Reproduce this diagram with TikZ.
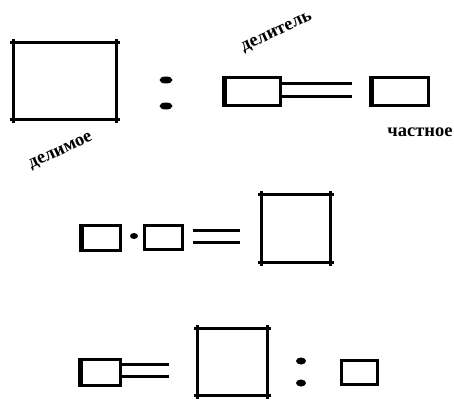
\documentclass[tikz,border=0pt]{standalone}
\usepackage{fontspec}
\setmainfont{Liberation Serif}
\usetikzlibrary{shapes.geometric}
\tikzset{
  bigbox/.style={inner sep=0pt, outer sep=0pt},
  smallbox/.style={draw, line width=3.5pt, inner sep=0pt, outer sep=0pt},
  side/.style={line width=3.3pt, shorten <=-3.5pt, shorten >=-3.5pt},
  thickside/.style={line width=5pt},
  eqsign/.style={inner sep=0pt, outer sep=0pt, minimum height=12pt},
  eqline/.style={line width=3pt},
  dot/.style={ellipse, fill, inner sep=0pt},
  lbl/.style={font=\bfseries\fontsize{18.5}{20}\selectfont, inner sep=0pt},
}
\begin{document}
\begin{tikzpicture}[x=1pt, y=-1pt]
\useasboundingbox (0,0) rectangle (454,401);
% dividend : divisor = quotient
\node[bigbox, minimum width=103pt, minimum height=77pt] (dividend) at (65,81) {};
\node[dot, minimum width=13pt, minimum height=7pt] (colona) at (166,80) {};
\node[dot, minimum width=13pt, minimum height=7pt] (colonb) at (166,106) {};
\node[smallbox, minimum width=57pt, minimum height=28pt] (divisor) at (252,91.5) {};
\node[eqsign, minimum width=70pt] (eqa) at (317,90) {};
\node[smallbox, minimum width=58pt, minimum height=28pt] (quotient) at (399.5,91.5) {};
\node[lbl, rotate=25] (ldivisor) at (277,33) {делитель};
\node[lbl] (lquotient) at (420,132) {частное};
\node[lbl, rotate=25] (ldividend) at (61,152) {делимое};
% factor . factor = product
\node[smallbox, minimum width=40pt, minimum height=25pt] (facta) at (100.5,238) {};
\node[dot, minimum width=8pt, minimum height=6pt] (times) at (134,236) {};
\node[smallbox, minimum width=38pt, minimum height=24pt] (factb) at (163.5,237.5) {};
\node[eqsign, minimum width=47pt] (eqb) at (216.5,236) {};
\node[bigbox, minimum width=69pt, minimum height=68pt] (product) at (296,228.5) {};
% result = dividend : divisor
\node[smallbox, minimum width=41pt, minimum height=26pt] (result) at (100,372.5) {};
\node[eqsign, minimum width=47pt] (eqc) at (145.5,370) {};
\node[bigbox, minimum width=70pt, minimum height=67pt] (dividendb) at (232.5,362) {};
\node[dot, minimum width=10pt, minimum height=7pt] (colonc) at (301,361) {};
\node[dot, minimum width=10pt, minimum height=7pt] (colond) at (301,383) {};
\node[smallbox, minimum width=36pt, minimum height=24pt] (divisorb) at (359.5,372.5) {};
% big boxes with crossing corners
\foreach \b in {dividend,product,dividendb}{
  \draw[side] (\b.north west) -- (\b.north east);
  \draw[side] (\b.south west) -- (\b.south east);
  \draw[side] (\b.north west) -- (\b.south west);
  \draw[side] (\b.north east) -- (\b.south east);
}
% heavier left sides
\foreach \b in {divisor,quotient,facta,result}{
  \draw[thickside] ([xshift=0.8pt]\b.north west) -- ([xshift=0.8pt]\b.south west);
}
% equals signs
\foreach \e in {eqa,eqb,eqc}{
  \draw[eqline] (\e.north west) -- (\e.north east);
  \draw[eqline] (\e.south west) -- (\e.south east);
}
\end{tikzpicture}
\end{document}
